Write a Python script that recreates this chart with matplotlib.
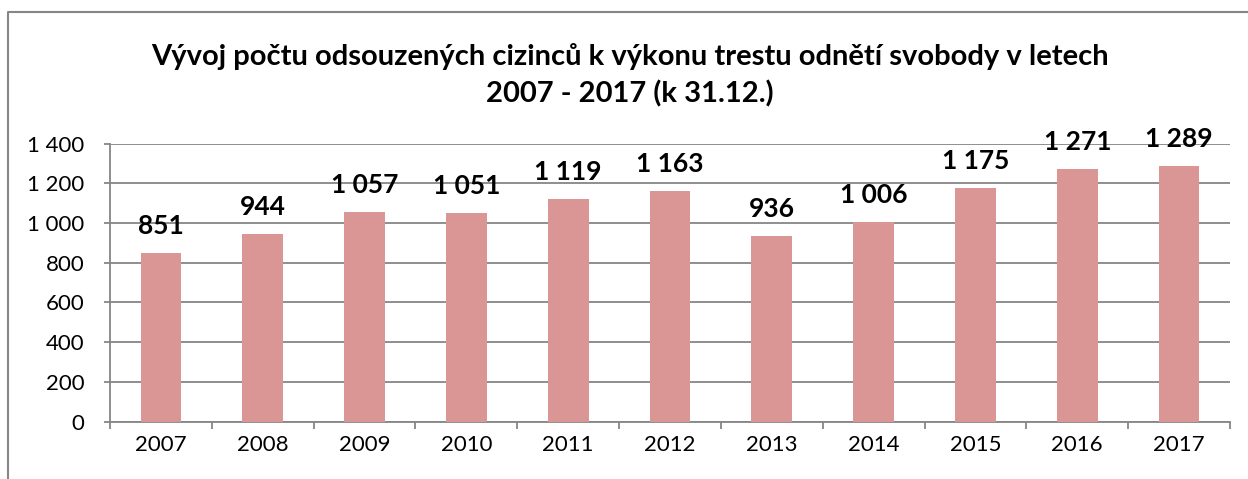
import matplotlib
matplotlib.use("Agg")
import matplotlib.pyplot as plt
from matplotlib.lines import Line2D
from matplotlib.ticker import FuncFormatter, MultipleLocator, FixedLocator
import numpy as np

years = ["2007", "2008", "2009", "2010", "2011", "2012", "2013", "2014", "2015", "2016", "2017"]
counts = [851, 944, 1057, 1051, 1119, 1163, 936, 1006, 1175, 1271, 1289]

title = ("Vývoj počtu odsouzených cizinců k výkonu trestu odnětí svobody v letech\n"
         "2007 - 2017 (k 31.12.)")

BAR = "#D99694"
GRID = "#868686"

plt.rcParams["font.family"] = ["Lato", "DejaVu Sans"]

W, H = 1248, 479
fig = plt.figure(figsize=(W / 100, H / 100), dpi=100)
ax = fig.add_axes([110 / W, 1 - 421.5 / H, 1120 / W, 277.8 / H])


def fmt(v, _pos):
    return f"{int(v):,}".replace(",", " ")


x = np.arange(len(years))
ax.bar(x, counts, width=0.4, color=BAR, zorder=3)
for xi, v in zip(x, counts):
    ax.annotate(fmt(v, None), (xi, v), xytext=(0, 19.5), textcoords="offset points",
                ha="center", va="center", fontsize=19, fontweight="bold")

ax.set_xlim(-0.5, len(years) - 0.5)
ax.set_ylim(0, 1400)
ax.yaxis.set_major_locator(MultipleLocator(200))
ax.yaxis.set_major_formatter(FuncFormatter(fmt))
ax.set_xticks(x)
ax.set_xticklabels(years)
ax.xaxis.set_minor_locator(FixedLocator(np.arange(-0.5, len(years), 1.0)))

ax.grid(axis="y", color=GRID, linewidth=1.3, zorder=0)
for s in ["top", "right"]:
    ax.spines[s].set_visible(False)
for s in ["left", "bottom"]:
    ax.spines[s].set_color(GRID)
    ax.spines[s].set_linewidth(1.3)
ax.tick_params(axis="y", length=4.5, width=1.3, color=GRID, pad=14, labelsize=16)
ax.tick_params(axis="x", which="major", length=0, pad=10, labelsize=16)
ax.tick_params(axis="x", which="minor", length=5, width=1.3, color=GRID)

fig.text(630 / W, 1 - 75 / H, title, ha="center", va="center", fontsize=21,
         fontweight="bold", linespacing=1.45)

# chart frame (Excel chart area border)
fig.add_artist(Line2D([8 / W, 8 / W, 1.0], [0, 1 - 12 / H, 1 - 12 / H],
                      transform=fig.transFigure, color=GRID, linewidth=1.5))

fig.savefig("out.png", dpi=100)
